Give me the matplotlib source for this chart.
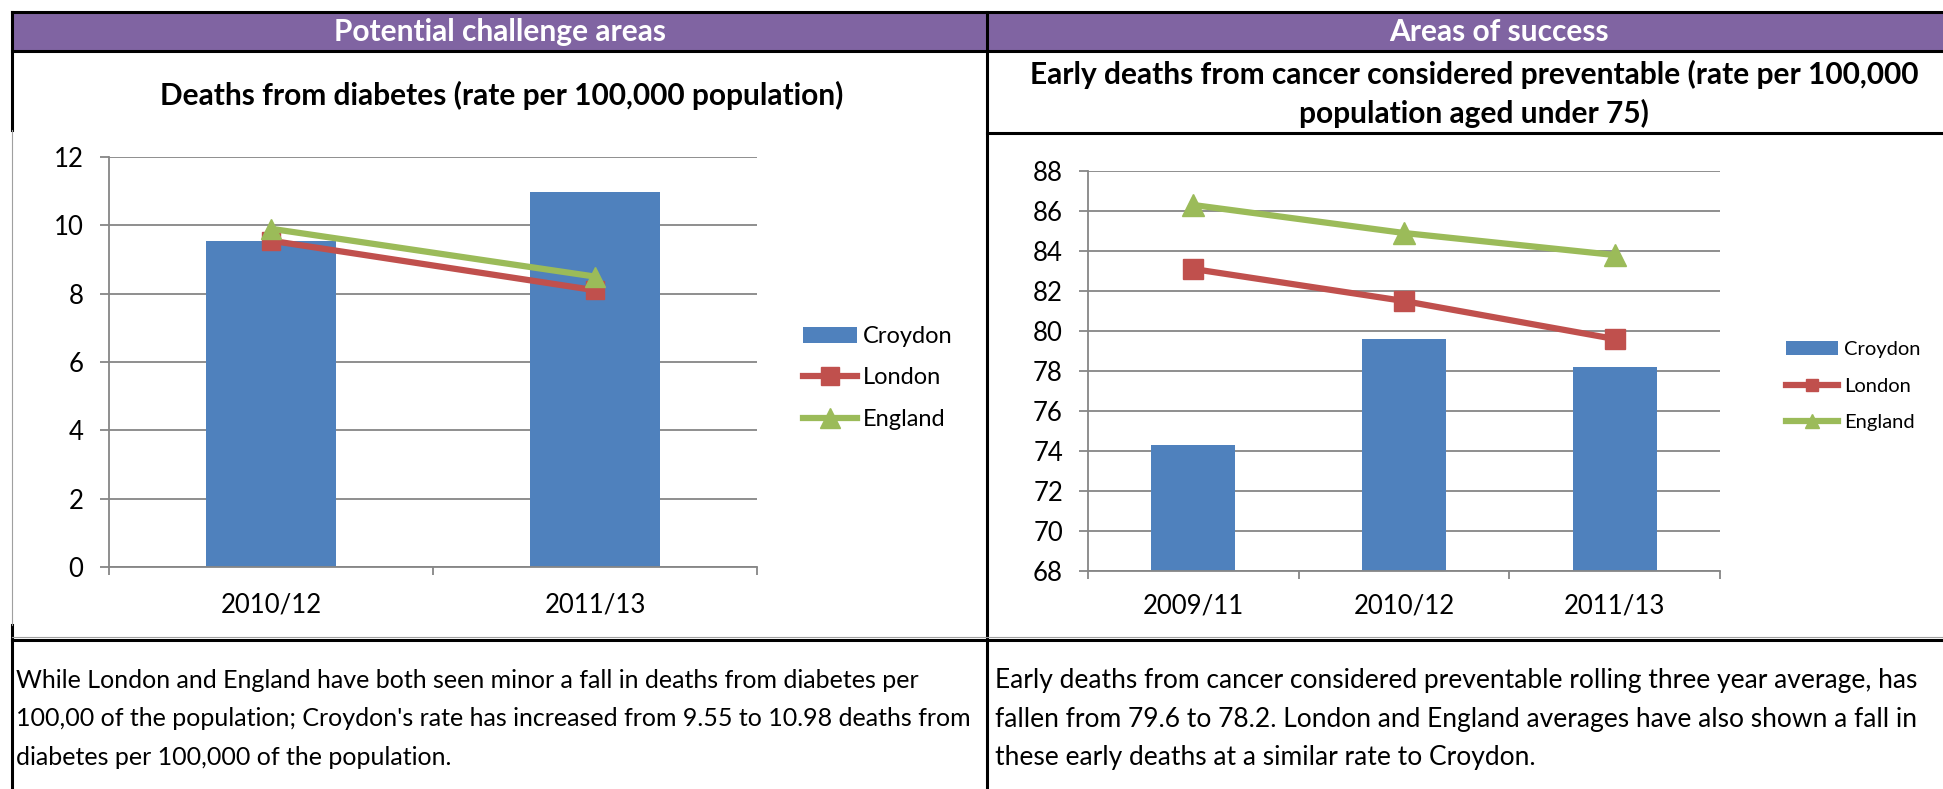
import matplotlib
matplotlib.use("Agg")
import matplotlib.pyplot as plt
from matplotlib.patches import Rectangle
import numpy as np

plt.rcParams['font.family'] = ['Lato', 'DejaVu Sans']

W, H = 1943, 789

# Deaths from diabetes (rate per 100,000)
diab_periods = ['2010/12', '2011/13']
diab_croydon = [9.55, 10.98]
diab_london = [9.55, 8.1]
diab_england = [9.9, 8.5]

# Early deaths from cancer considered preventable
cancer_periods = ['2009/11', '2010/12', '2011/13']
cancer_croydon = [74.3, 79.6, 78.2]
cancer_london = [83.1, 81.5, 79.6]
cancer_england = [86.3, 84.9, 83.8]

series_names = ['Croydon', 'London', 'England']

blue = '#4F81BD'
red = '#C0504D'
green = '#9BBB59'
grey = '#868686'
purple = '#8064A2'

fig = plt.figure(figsize=(W / 100, H / 100), dpi=100)

# background layer in pixel coordinates (table borders, headers, text)
bg = fig.add_axes([0, 0, 1, 1])
bg.set_xlim(0, W)
bg.set_ylim(H, 0)
bg.axis('off')

bg.add_patch(Rectangle((12, 12), W - 12, 39, color=purple, lw=0))
lw_b = 2.2
bg.plot([12, W], [12, 12], color='black', lw=lw_b)
bg.plot([12, W], [51, 51], color='black', lw=lw_b)
bg.plot([987, 987], [12, H], color='black', lw=lw_b)
bg.plot([12, 12], [12, 130], color='black', lw=lw_b)
bg.plot([12, 12], [625, H], color='black', lw=lw_b)
bg.plot([11.5, 11.5], [130, 625], color='#a0a0a0', lw=0.8)
bg.plot([987, W], [133, 133], color='black', lw=lw_b)
bg.plot([12, W], [637, 637], color='#a0a0a0', lw=0.8)
bg.plot([12, W], [640, 640], color='black', lw=lw_b)

head_fs = 21.5
bg.text(500, 32, 'Potential challenge areas', color='white', fontsize=head_fs,
        fontweight='bold', ha='center', va='center')
bg.text(1499, 32, 'Areas of success', color='white', fontsize=head_fs,
        fontweight='bold', ha='center', va='center')
bg.text(502, 95, 'Deaths from diabetes (rate per 100,000 population)',
        fontsize=head_fs, fontweight='bold', ha='center', va='center')
bg.text(1474, 74, 'Early deaths from cancer considered preventable (rate per 100,000',
        fontsize=head_fs, fontweight='bold', ha='center', va='center')
bg.text(1474, 113, 'population aged under 75)',
        fontsize=head_fs, fontweight='bold', ha='center', va='center')

left_note = ["While London and England have both seen minor a fall in deaths from diabetes per",
             "100,00 of the population; Croydon's rate has increased from 9.55 to 10.98 deaths from",
             "diabetes per 100,000 of the population."]
right_note = ["Early deaths from cancer considered preventable rolling three year average, has",
              "fallen from 79.6 to 78.2. London and England averages have also shown a fall in",
              "these early deaths at a similar rate to Croydon."]
for i, line in enumerate(left_note):
    bg.text(16, 688 + i * 38.5, line, fontsize=18, va='baseline', ha='left')
for i, line in enumerate(right_note):
    bg.text(995, 688 + i * 38.5, line, fontsize=19, va='baseline', ha='left')


def px_axes(x0, y0, x1, y1):
    return fig.add_axes([x0 / W, 1 - y1 / H, (x1 - x0) / W, (y1 - y0) / H])


def draw_chart(ax, periods, croydon, london, england, yticks, ms, xpad, ypad):
    x = np.arange(len(periods))
    bars = ax.bar(x, croydon, width=0.4, color=blue, zorder=2, label=series_names[0])
    l1, = ax.plot(x, london, color=red, lw=4.5, marker='s', ms=ms, zorder=3,
                  label=series_names[1])
    l2, = ax.plot(x, england, color=green, lw=4.5, marker='^', ms=ms + 1, zorder=4,
                  label=series_names[2])
    ax.set_xlim(-0.5, len(periods) - 0.5)
    ax.set_ylim(yticks[0], yticks[-1])
    ax.set_yticks(yticks)
    ax.set_xticks(x)
    ax.set_xticklabels(periods)
    ax.set_xticks(np.arange(len(periods) + 1) - 0.5, minor=True)
    ax.yaxis.grid(True, color=grey, lw=1.3)
    ax.set_axisbelow(True)
    for s in ['top', 'right']:
        ax.spines[s].set_visible(False)
    for s in ['left', 'bottom']:
        ax.spines[s].set_color(grey)
        ax.spines[s].set_linewidth(1.3)
    ax.tick_params(axis='x', which='major', length=0, labelsize=18.5, pad=xpad)
    ax.tick_params(axis='x', which='minor', length=6, width=1.3, color=grey)
    ax.tick_params(axis='y', length=6.5, width=1.3, color=grey, labelsize=18.5, pad=ypad)
    ax.set_facecolor('none')
    return [bars, l1, l2]


ax1 = px_axes(109, 157, 757, 567)
h1 = draw_chart(ax1, diab_periods, diab_croydon, diab_london, diab_england,
                np.arange(0, 13, 2), 13, 18.5, 12)
ax1.legend(h1, series_names, loc='center left', bbox_to_anchor=(803 / W, 1 - 378 / H),
           bbox_transform=fig.transFigure, frameon=False, borderpad=0, borderaxespad=0,
           handlelength=2.3, handletextpad=0.25, labelspacing=0.86, fontsize=17,
           markerscale=1.0)

ax2 = px_axes(1088, 171, 1720, 571)
h2 = draw_chart(ax2, cancer_periods, cancer_croydon, cancer_london, cancer_england,
                np.arange(68, 89, 2), 15, 16, 11.5)
ax2.legend(h2, series_names, loc='center left', bbox_to_anchor=(1786 / W, 1 - 386 / H),
           bbox_transform=fig.transFigure, frameon=False, borderpad=0, borderaxespad=0,
           handlelength=2.6, handletextpad=0.3, labelspacing=0.95, fontsize=14.5,
           markerscale=0.6)

fig.savefig('out.png', dpi=100)
